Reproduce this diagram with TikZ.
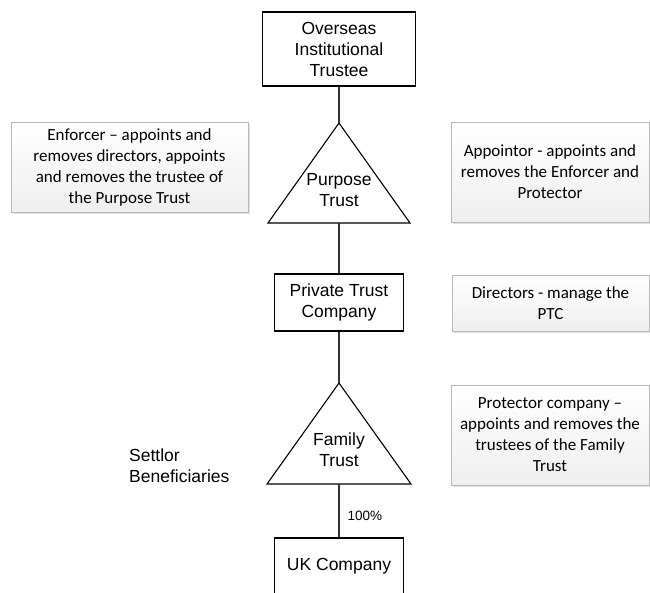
\documentclass[tikz,border=0pt]{standalone}
\usepackage{fontspec}
\setmainfont{Liberation Sans}
\newfontfamily\calfont[Ligatures=TeX]{Carlito}
\usetikzlibrary{shadows}
\tikzset{
  mainfont/.style={font=\fontsize{17.5}{21}\selectfont},
  mainbox/.style={draw=black, line width=1.1pt, fill=white, align=center, inner sep=0pt, mainfont},
  tri/.style={draw=black, line width=1.1pt, line join=miter},
  conn/.style={draw=black!80, line width=1.1pt},
  sidebox/.style={draw=gray!55, line width=0.7pt, top color=white, bottom color=gray!13,
    align=center, inner sep=0pt, font=\calfont\fontsize{17}{21}\selectfont,
    drop shadow={shadow xshift=1.5pt, shadow yshift=-1.5pt, opacity=0.25, fill=gray}},
  plain/.style={align=center, inner sep=0pt, mainfont}
}
\begin{document}
\begin{tikzpicture}[x=1pt, y=-1pt]
\clip (0,0) rectangle (650,592);
\fill[white] (0,0) rectangle (650,592);

% main chain
\node[mainbox, minimum width=153pt, minimum height=74pt] (ovs) at (339,49) {Overseas\\Institutional\\Trustee};

\coordinate (ptA) at (339,123);
\coordinate (ptL) at (268,223);
\coordinate (ptR) at (410,223);
\coordinate (ptB) at (339,223);
\draw[tri] (ptA) -- (ptR) -- (ptL) -- cycle;
\node[plain] (ptxt) at (339,190) {Purpose\\Trust};

\node[mainbox, minimum width=129pt, minimum height=57pt] (ptc) at (339,302.5) {Private Trust\\Company};

\coordinate (ftA) at (339,383);
\coordinate (ftL) at (267,484);
\coordinate (ftR) at (411,484);
\coordinate (ftB) at (339,484);
\draw[tri] (ftA) -- (ftR) -- (ftL) -- cycle;
\node[plain] (ftxt) at (339,450) {Family\\Trust};

\node[mainbox, minimum width=129pt, minimum height=56pt] (uk) at (339,566) {UK Company};

\draw[conn] (ovs.south) -- (ptA);
\draw[conn] (ptB) -- (ptc.north);
\draw[conn] (ptc.south) -- (ftA);
\draw[conn] (ftB) -- node[pos=0.6, anchor=west, xshift=8pt, inner sep=0pt, font=\fontsize{13.5}{15}\selectfont] (pct) {100\%} (uk.north);

% side notes
\node[sidebox, minimum width=237pt, minimum height=90pt] (enf) at (129.5,167)
  {Enforcer – appoints and\\removes directors, appoints\\and removes the trustee of\\the Purpose Trust};
\node[sidebox, minimum width=198pt, minimum height=100pt] (app) at (550,172)
  {Appointor - appoints and\\removes the Enforcer and\\Protector};
\node[sidebox, minimum width=197pt, minimum height=56pt] (dir) at (550.5,303)
  {Directors - manage the\\PTC};
\node[sidebox, minimum width=198pt, minimum height=100pt] (pro) at (550,435)
  {Protector company –\\appoints and removes the\\trustees of the Family\\Trust};

\node[align=left, anchor=west, inner sep=0pt, mainfont] (set) at (129,465.5) {Settlor\\Beneficiaries};
\end{tikzpicture}
\end{document}
